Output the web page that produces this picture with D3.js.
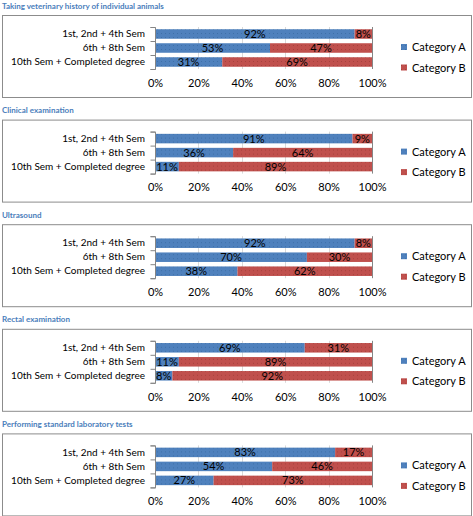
<!DOCTYPE html>
<html><head><meta charset="utf-8">
<script src="https://cdn.jsdelivr.net/npm/d3@7"></script>
<style>
html,body{margin:0;padding:0;background:#fff;}
svg{display:block;font-family:Lato,"Open Sans",sans-serif;}
</style></head>
<body>
<svg id="c" width="473" height="516"></svg>
<script>
const titles = ["Taking veterinary history of individual animals","Clinical examination","Ultrasound","Rectal examination","Performing standard laboratory tests"];
const categories = ["1st, 2nd + 4th Sem","6th + 8th Sem","10th Sem + Completed degree"];
const seriesNames = ["Category A","Category B"];
const catA = [[92,53,31],[91,36,11],[92,70,38],[69,11,8],[83,54,27]];
const catB = [[8,47,69],[9,64,89],[8,30,62],[31,89,92],[17,46,73]];
const tickValues = [0,20,40,60,80,100];
const colors = ["#4F81BD","#C0504D"];
const dots = ["#2c5a8f","#8a2e2b"];

const svg = d3.select("#c");
const defs = svg.append("defs");
colors.forEach((c,i)=>{
  const p = defs.append("pattern").attr("id","pat"+i).attr("patternUnits","userSpaceOnUse").attr("width",4).attr("height",4);
  p.append("rect").attr("width",4).attr("height",4).attr("fill",c);
  p.append("rect").attr("x",1).attr("y",1).attr("width",1).attr("height",1).attr("fill",dots[i]).attr("opacity",0.45);
});

const x = d3.scaleLinear().domain([0,100]).range([155,372]);
const y = d3.scaleBand().domain(categories).range([27,69]).paddingInner(0.32).paddingOuter(0.16);
const step = 104.6;

titles.forEach((t,k)=>{
  const g = svg.append("g").attr("transform",`translate(0,${k*step})`);
  g.append("text").attr("x",2).attr("y",8.5).attr("font-size",8).attr("font-weight","bold").attr("fill","#4A7EBB").text(t);
  g.append("rect").attr("x",2.5).attr("y",15.5).attr("width",469).attr("height",82).attr("fill","#fff").attr("stroke","#8c8c8c").attr("stroke-width",1);
  // gridlines
  g.selectAll(".grid").data(tickValues.slice(1)).enter().append("line")
    .attr("x1",d=>Math.round(x(d))+0.5).attr("x2",d=>Math.round(x(d))+0.5)
    .attr("y1",27).attr("y2",69)
    .attr("stroke",d=>d===100?"#868686":"#d9d9d9").attr("stroke-width",1);
  // bars
  const rows = categories.map((c,i)=>({c,a:catA[k][i],b:catB[k][i]}));
  rows.forEach(r=>{
    const segs = [{s:0,v:r.a,i:0},{s:r.a,v:r.b,i:1}];
    segs.forEach(s=>{
      g.append("rect").attr("x",x(s.s)).attr("y",y(r.c)).attr("width",x(s.s+s.v)-x(s.s)).attr("height",y.bandwidth())
        .attr("fill",`url(#pat${s.i})`);
      g.append("text").attr("x",(x(s.s)+x(s.s+s.v))/2).attr("y",y(r.c)+y.bandwidth()/2+4)
        .attr("text-anchor","middle").attr("font-size",11).attr("fill","#000").text(s.v+"%");
    });
  });
  // y axis
  const ya = g.append("g").attr("transform","translate(155,0)")
    .call(d3.axisLeft(y).tickSize(0).tickPadding(10));
  ya.select(".domain").attr("stroke","#868686").attr("d","M-4.5,27.5H0.5V69.5H-4.5");
  ya.selectAll("text").attr("font-size",10).attr("fill","#000").attr("font-family","Lato,sans-serif");
  [27,41,55,69].forEach(v=>g.append("line").attr("x1",150.5).attr("x2",155.5).attr("y1",v+0.5).attr("y2",v+0.5).attr("stroke","#868686"));
  // x axis labels
  const xa = g.append("g").attr("transform","translate(0,69)")
    .call(d3.axisBottom(x).tickValues(tickValues).tickFormat(d=>d+"%").tickSize(0).tickPadding(10));
  xa.select(".domain").remove();
  xa.selectAll("text").attr("font-size",11).attr("fill","#000").attr("font-family","Lato,sans-serif");
  // legend
  seriesNames.forEach((n,i)=>{
    const ly = 47 + i*20.5;
    g.append("rect").attr("x",401).attr("y",ly-3).attr("width",6).attr("height",6).attr("fill",`url(#pat${i})`);
    g.append("text").attr("x",412).attr("y",ly+4).attr("font-size",11).attr("fill","#000").text(n);
  });
});
</script>
</body></html>
